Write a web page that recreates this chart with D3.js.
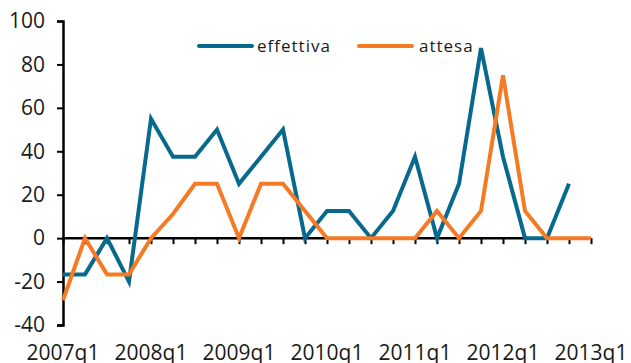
<!DOCTYPE html>
<html>
<head>
<meta charset="utf-8">
<script src="https://cdn.jsdelivr.net/npm/d3@7"></script>
<style>
  body { margin: 0; background: #fff; }
  text { font-family: "Open Sans", "Noto Sans", sans-serif; fill: #1a1a1a; }
</style>
</head>
<body>
<div id="chart"></div>
<script>
const quarters = [
    "2007q1", "2007q2", "2007q3", "2007q4",
    "2008q1", "2008q2", "2008q3", "2008q4",
    "2009q1", "2009q2", "2009q3", "2009q4",
    "2010q1", "2010q2", "2010q3", "2010q4",
    "2011q1", "2011q2", "2011q3", "2011q4",
    "2012q1", "2012q2", "2012q3", "2012q4",
    "2013q1"
];
// null = no value
const effettiva = [
    -16.7, -16.7, 0, -20,
    55, 37.5, 37.5, 50,
    25, 37.5, 50, 0,
    12.5, 12.5, 0, 12.5,
    37.5, 0, 25, 87.5,
    37.5, 0, 0, 25,
    null
];
const attesa = [
    -28.6, 0, -16.7, -16.7,
    0, 11.1, 25, 25,
    0, 25, 25, 12.5,
    0, 0, 0, 0,
    0, 12.5, 0, 12.5,
    75, 12.5, 0, 0,
    0
];
const yTicks = [-40, -20, 0, 20, 40, 60, 80, 100];
const xLabels = ["2007q1", "2008q1", "2009q1", "2010q1", "2011q1", "2012q1", "2013q1"];

const series = [
    { name: "effettiva", values: effettiva, color: "#08698f" },
    { name: "attesa", values: attesa, color: "#f57a23" }
];

const width = 631, height = 363;

const svg = d3.select("#chart").append("svg")
    .attr("width", width)
    .attr("height", height);

const x = d3.scalePoint()
    .domain(quarters)
    .range([63, 591]);

const y = d3.scaleLinear()
    .domain([-40, 100])
    .range([325, 21]);

// y axis
const yAxis = svg.append("g")
    .attr("transform", "translate(63,0)")
    .call(d3.axisLeft(y).tickValues(yTicks).tickSize(6).tickPadding(12).tickFormat(d3.format("d")));
yAxis.select(".domain").attr("stroke", "#000").attr("stroke-width", 2.5);
yAxis.selectAll(".tick line").attr("stroke", "#000").attr("stroke-width", 2);
yAxis.selectAll(".tick text")
    .style("font-size", "21px")
    .text(d => d < 0 ? "-" + Math.abs(d) : d);

// x axis at zero
const xAxis = svg.append("g")
    .attr("transform", `translate(0,${y(0)})`)
    .call(d3.axisBottom(x).tickSize(6).tickFormat(""));
xAxis.select(".domain").attr("d", `M${x(quarters[0])},0H${x(quarters[quarters.length - 1])}`)
    .attr("stroke", "#000").attr("stroke-width", 2.5);
xAxis.selectAll(".tick line").attr("stroke", "#000").attr("stroke-width", 2);

svg.append("g").selectAll("text")
    .data(xLabels)
    .enter().append("text")
    .attr("x", d => x(d))
    .attr("y", 360)
    .attr("text-anchor", "middle")
    .style("font-size", "21px")
    .text(d => d);

// lines
const line = d3.line()
    .defined(d => d.v !== null)
    .x(d => x(d.q))
    .y(d => y(d.v));

series.forEach(s => {
    svg.append("path")
        .datum(quarters.map((q, i) => ({ q: q, v: s.values[i] })))
        .attr("fill", "none")
        .attr("stroke", s.color)
        .attr("stroke-width", 4)
        .attr("stroke-linejoin", "miter")
        .attr("d", line);
});

// legend
const legendPos = [{ x: 199, tx: 257 }, { x: 359, tx: 419 }];
series.forEach((s, i) => {
    const g = svg.append("g");
    g.append("line")
        .attr("x1", legendPos[i].x).attr("x2", legendPos[i].x + 53)
        .attr("y1", 46).attr("y2", 46)
        .attr("stroke", s.color)
        .attr("stroke-width", 4)
        .attr("stroke-linecap", "round");
    g.append("text")
        .attr("x", legendPos[i].tx)
        .attr("y", 52)
        .style("font-size", "17px")
        .style("letter-spacing", "1px")
        .text(s.name);
});
</script>
</body>
</html>
